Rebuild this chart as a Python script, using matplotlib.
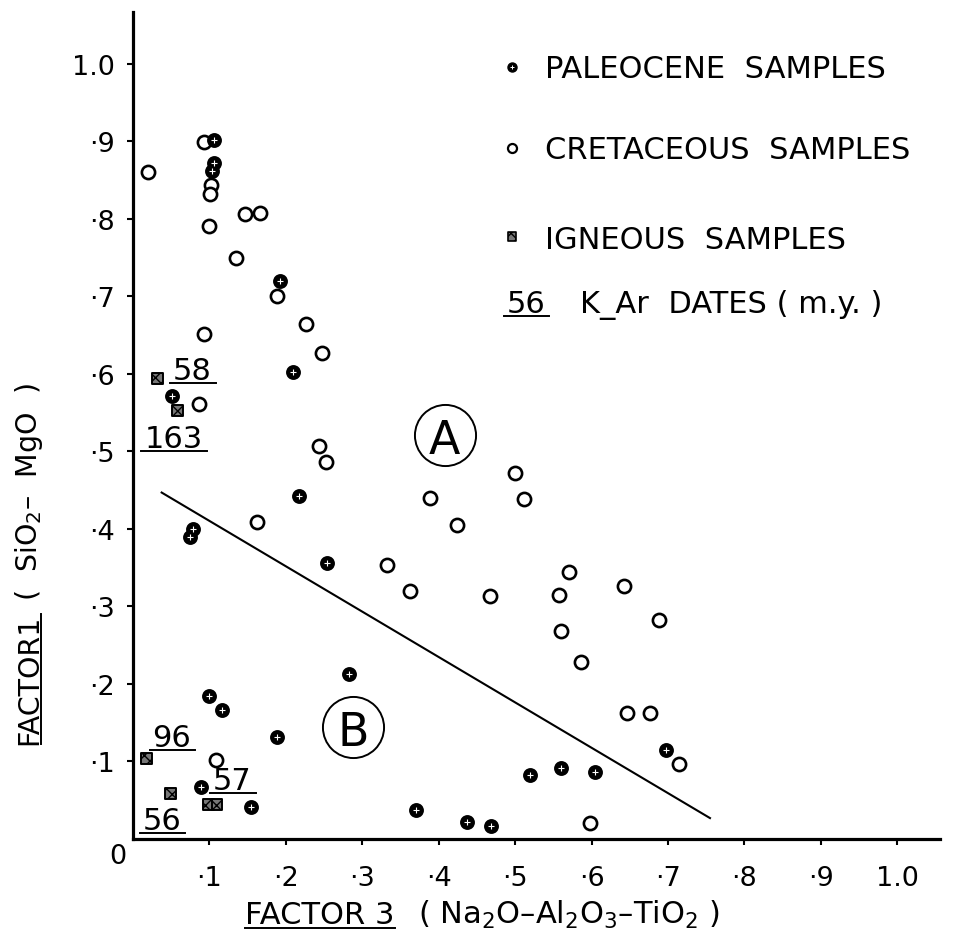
import matplotlib
matplotlib.use("Agg")
import matplotlib.pyplot as plt
from matplotlib.lines import Line2D

plt.rcParams["font.family"] = ["DejaVu Sans"]
plt.rcParams["mathtext.fontset"] = "dejavusans"

# ---- data -------------------------------------------------------------
paleocene_x = [0.106, 0.106, 0.104, 0.193, 0.209, 0.051, 0.217, 0.079, 0.074,
               0.254, 0.283, 0.099, 0.116, 0.188, 0.089, 0.154, 0.370, 0.437,
               0.469, 0.519, 0.560, 0.605, 0.698]
paleocene_y = [0.902, 0.872, 0.862, 0.720, 0.603, 0.571, 0.443, 0.400, 0.389,
               0.356, 0.213, 0.184, 0.167, 0.131, 0.067, 0.041, 0.037, 0.022,
               0.017, 0.083, 0.092, 0.086, 0.115]

cretaceous_x = [0.093, 0.020, 0.102, 0.101, 0.099, 0.146, 0.166, 0.135, 0.189,
                0.227, 0.093, 0.247, 0.086, 0.244, 0.252, 0.162, 0.500, 0.388,
                0.511, 0.424, 0.333, 0.362, 0.467, 0.570, 0.558, 0.642, 0.688,
                0.560, 0.586, 0.647, 0.676, 0.715, 0.108, 0.598]
cretaceous_y = [0.899, 0.861, 0.844, 0.832, 0.791, 0.806, 0.808, 0.750, 0.700,
                0.665, 0.652, 0.627, 0.561, 0.507, 0.486, 0.409, 0.472, 0.440,
                0.439, 0.405, 0.354, 0.320, 0.313, 0.345, 0.315, 0.326, 0.283,
                0.268, 0.228, 0.163, 0.163, 0.097, 0.102, 0.021]

igneous_x = [0.032, 0.058, 0.018, 0.049, 0.099, 0.110]
igneous_y = [0.594, 0.553, 0.104, 0.059, 0.045, 0.045]

# K-Ar dates (m.y.) written beside igneous samples
date_labels = ["58", "163", "96", "57", "56"]
date_x = [0.078, 0.053, 0.051, 0.130, 0.038]
date_y = [0.594, 0.506, 0.120, 0.064, 0.013]

# dividing line between fields A and B
line_x = [0.0375, 0.755]
line_y = [0.447, 0.027]

region_names = ["A", "B"]
region_x = [0.408, 0.288]
region_y = [0.521, 0.144]

tick_values = [0.1, 0.2, 0.3, 0.4, 0.5, 0.6, 0.7, 0.8, 0.9, 1.0]
tick_labels = ["·1", "·2", "·3", "·4", "·5", "·6", "·7", "·8", "·9", "1.0"]

# ---- figure -----------------------------------------------------------
W, H = 959, 953
fig = plt.figure(figsize=(W / 100, H / 100), dpi=100)
ax = fig.add_axes([133 / W, 1 - 840 / H, (940 - 133) / W, (840 - 13) / H])
ax.set_xlim(0, 1.056)
ax.set_ylim(0, 1.067)
for s in ["top", "right"]:
    ax.spines[s].set_visible(False)
for s in ["left", "bottom"]:
    ax.spines[s].set_linewidth(2.3)

ax.set_xticks(tick_values)
ax.set_xticklabels(tick_labels)
ax.set_yticks(tick_values)
ax.set_yticklabels(tick_labels)
ax.tick_params(axis="x", direction="out", length=4, width=1.5, pad=15, labelsize=19.5)
ax.tick_params(axis="y", direction="out", length=4, width=1.5, pad=9, labelsize=19.5)
ax.text(-0.0196, -0.022, "0", fontsize=19.5, ha="center", va="center", clip_on=False)

# separating line
ax.plot(line_x, line_y, color="black", lw=1.5, zorder=2)

# samples
ax.plot(cretaceous_x, cretaceous_y, "o", ms=9.5, mfc="white", mec="black",
        mew=1.9, ls="none", zorder=3)
ax.plot(paleocene_x, paleocene_y, "o", ms=9.5, mfc="black", mec="black",
        mew=1.2, ls="none", zorder=4)
ax.plot(paleocene_x, paleocene_y, "+", ms=4, mec="white", mew=0.8, ls="none", zorder=5)
ax.scatter(igneous_x, igneous_y, marker="s", s=60, facecolors="#777777",
           edgecolors="black", hatch="xxx", linewidths=1.4, zorder=4)

# field labels
ax.plot(region_x, region_y, "o", ms=44, mfc="none", mec="black", mew=1.4, ls="none")
for name, x, y in zip(region_names, region_x, region_y):
    ax.text(x, y, name, fontsize=33, ha="center", va="center_baseline")

# dates
date_texts = []
for lab, x, y in zip(date_labels, date_x, date_y):
    date_texts.append(ax.text(x, y, lab, fontsize=22, ha="center", va="baseline"))

# legend
leg_mx = 0.496
ax.plot([leg_mx], [0.996], "o", ms=6.5, mfc="black", mec="black", ls="none")
ax.plot([leg_mx], [0.996], "+", ms=3, mec="white", mew=0.7, ls="none")
ax.plot([leg_mx], [0.891], "o", ms=6.5, mfc="white", mec="black", mew=1.6, ls="none")
ax.scatter([leg_mx], [0.777], marker="s", s=40, facecolors="#777777",
           edgecolors="black", hatch="xxx", linewidths=1.2)
leg_font = 22
ax.text(0.539, 0.983, "PALEOCENE  SAMPLES", fontsize=leg_font, va="baseline")
ax.text(0.539, 0.879, "CRETACEOUS  SAMPLES", fontsize=leg_font, va="baseline")
ax.text(0.539, 0.763, "IGNEOUS  SAMPLES", fontsize=leg_font, va="baseline")
ax.text(0.585, 0.680, "K_Ar  DATES ( m.y. )", fontsize=leg_font, va="baseline")
leg56 = ax.text(0.489, 0.680, "56", fontsize=22, va="baseline")

# axis titles
xt1 = fig.text(245 / W, 1 - 924 / H, "FACTOR 3", fontsize=22, ha="left", va="baseline")
fig.text(418 / W, 1 - 924 / H, "( Na$_2$O–Al$_2$O$_3$–TiO$_2$ )", fontsize=22,
         ha="left", va="baseline")
yt1 = fig.text(37 / W, 1 - 745 / H, "FACTOR1", fontsize=20.5, rotation=90,
               rotation_mode="anchor", ha="left", va="baseline")

fig.canvas.draw()
renderer = fig.canvas.get_renderer()
to_fig = fig.transFigure.inverted()

bb_y1 = yt1.get_window_extent(renderer)
fig.text(37 / W, (bb_y1.y1 + 14) / fig.bbox.height, "(  SiO$_2$–  MgO  )",
         fontsize=20.5, rotation=90, rotation_mode="anchor", ha="left", va="baseline")


def hline(x0, x1, y, lw=1.4):
    (a, b), (c, d) = to_fig.transform([(x0, y), (x1, y)])
    fig.add_artist(Line2D([a, c], [b, d], color="black", lw=lw))


def vline(x, y0, y1, lw=1.4):
    (a, b), (c, d) = to_fig.transform([(x, y0), (x, y1)])
    fig.add_artist(Line2D([a, c], [b, d], color="black", lw=lw))


# underline the date labels
for t, x, y in zip(date_texts + [leg56], date_x + [0.489], date_y + [0.680]):
    bb = t.get_window_extent(renderer)
    base = ax.transData.transform((x, y))[1]
    hline(bb.x0 - 3, bb.x1 + 4, base - 4)

# underline the factor names
bb = xt1.get_window_extent(renderer)
base_y = (1 - 924 / H) * fig.bbox.height
hline(bb.x0, bb.x1, base_y - 5)

base_x = 37 / W * fig.bbox.width
vline(base_x + 4, bb_y1.y0, bb_y1.y1)

fig.savefig("out.png", dpi=100, facecolor="white")
